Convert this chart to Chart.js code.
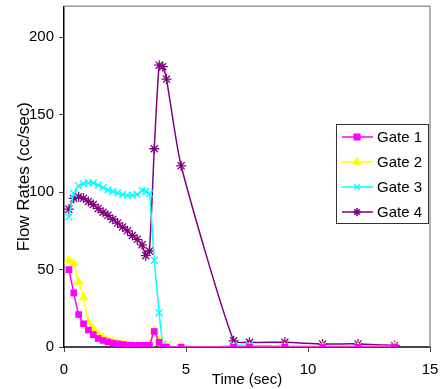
<!DOCTYPE html>
<html>
<head>
<meta charset="utf-8">
<script src="https://cdn.jsdelivr.net/npm/chart.js@4"></script>
<style>
  html, body { margin: 0; padding: 0; background: #fff; }
  #wrap { width: 445px; height: 389px; }
</style>
</head>
<body>
<div id="wrap"><canvas id="flowChart" width="445" height="389"></canvas></div>
<script>
// time (sec), shared by all gates
const time = [0.2, 0.4, 0.6, 0.8, 1.0, 1.2, 1.4, 1.6, 1.8, 2.0, 2.2, 2.4, 2.6, 2.8, 3.0, 3.2, 3.35, 3.5,
  3.7, 3.9, 4.05, 4.2, 4.8, 6.95, 7.6, 9.05, 10.6, 12.05, 13.55];

const gate1 = [50, 35, 21, 15, 11, 8, 5.5, 4.2, 3.3, 2.6, 2, 1.6, 1.3, 1.1, 1, 1, 1, 1,
  10, 3, 0, 0, 0, 0, 0, 0, 0, 0, 0];
const gate2 = [56, 54, 42, 32, 16, 11.5, 8, 6, 4.5, 3.5, 2.5, 2, 1.5, 1.2, 1, 1, 1, 1.5,
  10.5, 4.5, 0, 0, 0, 0, 0, 0, 0, 0, 0];
const gate3 = [84, 99, 104, 105.5, 106, 106, 104.5, 103, 101.5, 100.5, 99.5, 98.5, 98, 98, 98.5, 101, 100.5, 99,
  56, 22, 2, 0, -1.5, 1, 1, 0.5, 0.5, 0.5, 0.5];
const gate4 = [89, 96, 97, 96, 94, 92, 89.5, 87, 85, 82.5, 80, 77.5, 75, 72, 69.5, 66, 59, 62,
  128, 182, 181, 173, 117, 4, 3, 3, 2, 2, 1];

const gateNames = ['Gate 1', 'Gate 2', 'Gate 3', 'Gate 4'];
const gateValues = [gate1, gate2, gate3, gate4];
const gateColors = ['#ff00ff', '#ffff00', '#00ffff', '#800080'];
const gateMarkers = ['rect', 'triangle', 'crossRot', 'star'];
const markerSizes = [3.8, 4.5, 4.8, 5];

const yTicks = [0, 50, 100, 150, 200];
const xTicks = [0, 5, 10, 15];

const font = "'Liberation Sans', Arial, sans-serif";

// legend drawn inside the plot, like the original
const boxLegend = {
  id: 'boxLegend',
  afterDraw(chart) {
    const ctx = chart.ctx;
    const x0 = 336, y0 = 124, w = 92, h = 99;
    ctx.save();
    ctx.fillStyle = '#fff';
    ctx.fillRect(x0, y0, w, h);
    ctx.strokeStyle = '#333';
    ctx.lineWidth = 1;
    ctx.strokeRect(x0 + 0.5, y0 + 0.5, w, h);
    ctx.font = '15px ' + font;
    ctx.textBaseline = 'middle';
    chart.data.datasets.forEach((ds, i) => {
      const cy = y0 + 13 + i * 25;
      ctx.strokeStyle = ds.borderColor;
      ctx.lineWidth = 1.5;
      ctx.beginPath();
      ctx.moveTo(x0 + 6, cy);
      ctx.lineTo(x0 + 37, cy);
      ctx.stroke();
      ctx.fillStyle = ds.borderColor;
      Chart.helpers.drawPoint(ctx, {
        pointStyle: ds.pointStyle, radius: 4, borderWidth: 1.5
      }, x0 + 21, cy);
      ctx.fillStyle = '#000';
      ctx.fillText(ds.label, x0 + 41, cy + 1);
    });
    ctx.restore();
  }
};

// grey frame on top and right of the plot
const frame = {
  id: 'frame',
  beforeDatasetsDraw(chart) {
    const a = chart.chartArea, ctx = chart.ctx;
    ctx.save();
    ctx.strokeStyle = '#999';
    ctx.lineWidth = 1.5;
    ctx.beginPath();
    ctx.moveTo(a.left, a.top);
    ctx.lineTo(a.right, a.top);
    ctx.lineTo(a.right, a.bottom);
    ctx.stroke();
    ctx.restore();
  }
};

new Chart(document.getElementById('flowChart'), {
  type: 'line',
  data: {
    datasets: gateNames.map((name, i) => ({
      label: name,
      data: time.map((t, j) => ({ x: t, y: gateValues[i][j] })),
      borderColor: gateColors[i],
      backgroundColor: gateColors[i],
      pointStyle: gateMarkers[i],
      pointRadius: markerSizes[i],
      pointBorderWidth: 1.3,
      borderWidth: 1.5,
      tension: 0.2,
      fill: false
    }))
  },
  options: {
    responsive: false,
    animation: false,
    layout: { padding: { top: 5, right: 15, left: 0, bottom: 0 } },
    plugins: {
      legend: { display: false },
      tooltip: { enabled: false }
    },
    scales: {
      x: {
        type: 'linear',
        min: 0,
        max: 15,
        afterBuildTicks: s => { s.ticks = xTicks.map(v => ({ value: v })); },
        afterFit: s => { s.height = 42; s.paddingLeft = 0; s.paddingRight = 0; },
        border: { color: '#444', width: 2 },
        grid: { drawOnChartArea: false, drawTicks: true, tickLength: 5, color: '#444' },
        ticks: { color: '#000', font: { family: font, size: 15 }, padding: 9, maxRotation: 0 },
        title: { display: true, text: 'Time (sec)', color: '#000', font: { family: font, size: 15 }, padding: { top: 2, bottom: 0 } }
      },
      y: {
        min: 0,
        max: 220,
        afterBuildTicks: s => { s.ticks = yTicks.map(v => ({ value: v })); },
        afterFit: s => { s.width = 64; s.paddingTop = 0; s.paddingBottom = 0; },
        border: { color: '#000', width: 1.5 },
        grid: { drawOnChartArea: false, drawTicks: true, tickLength: 5, color: '#444' },
        ticks: { color: '#000', font: { family: font, size: 15 }, padding: 5 },
        title: { display: true, text: 'Flow Rates (cc/sec)', color: '#000', font: { family: font, size: 17 }, padding: { top: 14, bottom: 0 } }
      }
    }
  },
  plugins: [frame, boxLegend]
});
</script>
</body>
</html>
